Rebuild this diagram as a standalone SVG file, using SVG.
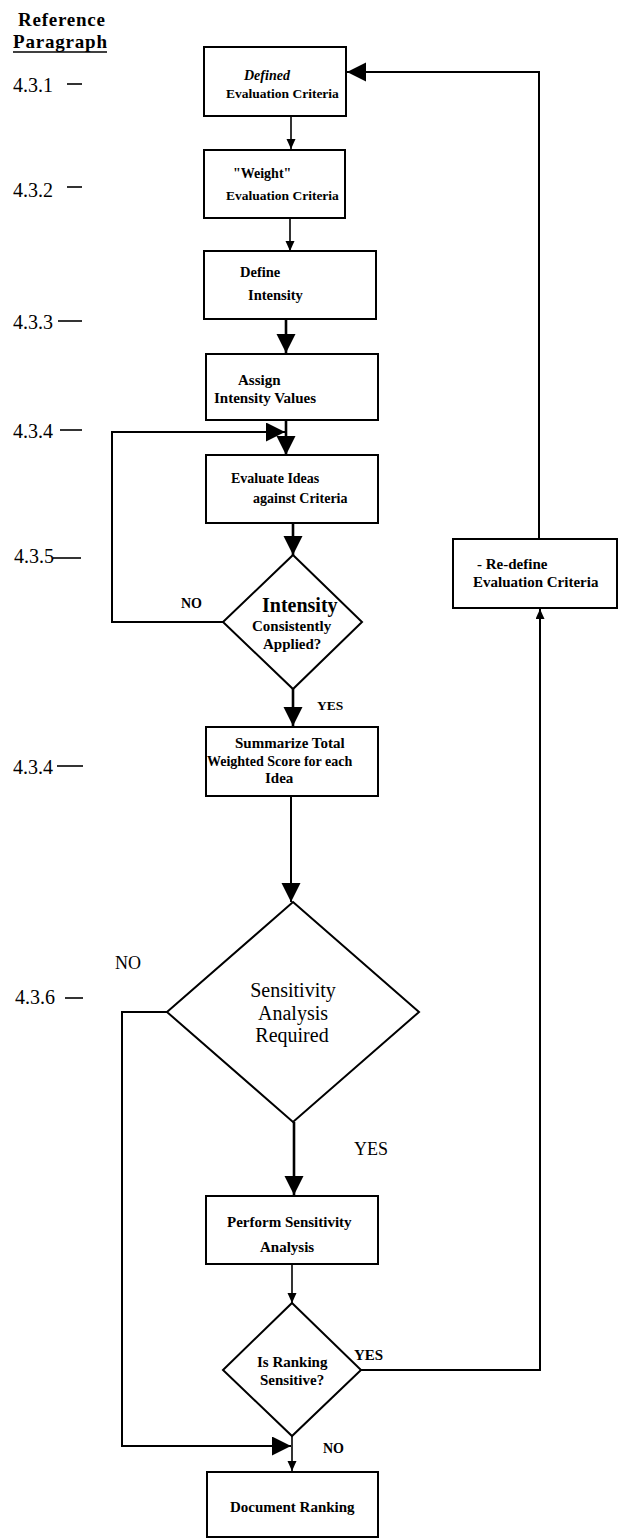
<svg xmlns="http://www.w3.org/2000/svg" width="618" height="1539" viewBox="0 0 618 1539">
  <style>
    .box { fill: #fff; stroke: #000; stroke-width: 2; }
    .ln { fill: none; stroke: #000; stroke-width: 1.6; }
    .thick { stroke-width: 2.6; }
    .mid { stroke-width: 2; }
    .tick { stroke: #000; stroke-width: 1.6; }
    text { font-family: "Liberation Serif", "Times New Roman", serif; fill: #000; }
    .b { font-weight: bold; }
    .bi { font-weight: bold; font-style: italic; }
    .sec { font-size: 20px; }
  </style>
  <defs>
    <marker id="big" markerUnits="userSpaceOnUse" markerWidth="20" markerHeight="20" refX="19" refY="9.5" orient="auto">
      <path d="M0,0 L19,9.5 L0,19 z" fill="#000"/>
    </marker>
    <marker id="small" markerUnits="userSpaceOnUse" markerWidth="11" markerHeight="10" refX="10" refY="4.5" orient="auto">
      <path d="M0,0 L10,4.5 L0,9 z" fill="#000"/>
    </marker>
  </defs>

  <rect width="618" height="1539" fill="#fff"/>

  <!-- column heading and paragraph numbers -->
  <g id="reference-column">
    <text class="b" x="18" y="26" font-size="19" textLength="87">Reference</text>
    <text class="b" x="13" y="48" font-size="19" textLength="94">Paragraph</text>
    <line class="tick" x1="13" y1="52" x2="107" y2="52"/>
    <text class="sec" x="13" y="92">4.3.1</text>
    <line class="tick" x1="67" y1="84" x2="82" y2="84"/>
    <text class="sec" x="13" y="197">4.3.2</text>
    <line class="tick" x1="67" y1="187" x2="82" y2="187"/>
    <text class="sec" x="13" y="329">4.3.3</text>
    <line class="tick" x1="58" y1="321" x2="82" y2="321"/>
    <text class="sec" x="13" y="438">4.3.4</text>
    <line class="tick" x1="60" y1="430" x2="82" y2="430"/>
    <text class="sec" x="14" y="563">4.3.5</text>
    <line class="tick" x1="53" y1="558" x2="81" y2="558"/>
    <text class="sec" x="13" y="774">4.3.4</text>
    <line class="tick" x1="57" y1="766" x2="83" y2="766"/>
    <text class="sec" x="15" y="1004">4.3.6</text>
    <line class="tick" x1="65" y1="998" x2="83" y2="998"/>
  </g>

  <!-- connectors -->
  <g id="connectors">
    <path class="ln" d="M291,116 V149" marker-end="url(#small)"/>
    <path class="ln" d="M290,218 V251" marker-end="url(#small)"/>
    <path class="ln thick" d="M286,319 V353" marker-end="url(#big)"/>
    <path class="ln thick" d="M286,420 V455" marker-end="url(#big)"/>
    <path class="ln mid" d="M223,622 H112 V432 H285" marker-end="url(#big)"/>
    <path class="ln thick" d="M293,523 V555" marker-end="url(#big)"/>
    <path class="ln thick" d="M293,689 V726" marker-end="url(#big)"/>
    <path class="ln mid" d="M291,796 V902" marker-end="url(#big)"/>
    <path class="ln thick" d="M294,1122 V1195" marker-end="url(#big)"/>
    <path class="ln mid" d="M167,1012 H122 V1446 H291" marker-end="url(#big)"/>
    <path class="ln" d="M292,1264 V1303" marker-end="url(#small)"/>
    <path class="ln" d="M292,1436 V1471" marker-end="url(#small)"/>
    <path class="ln mid" d="M361,1370 H540 V609" marker-end="url(#small)"/>
    <path class="ln mid" d="M539,539 V72 H347" marker-end="url(#big)"/>
    <text class="b" x="181" y="608" font-size="14">NO</text>
    <text class="b" x="317" y="710" font-size="13.5">YES</text>
    <text x="115" y="969" font-size="18">NO</text>
    <text x="354" y="1155" font-size="18">YES</text>
    <text class="b" x="354" y="1360" font-size="15">YES</text>
    <text class="b" x="323" y="1453" font-size="14">NO</text>
  </g>

  <g id="define-criteria">
    <rect class="box" x="204" y="47" width="142" height="69"/>
    <text class="bi" x="244" y="80" font-size="14">Defined</text>
    <text class="b" x="226" y="98" font-size="13.5">Evaluation Criteria</text>
  </g>

  <g id="weight-criteria">
    <rect class="box" x="204" y="150" width="141" height="68"/>
    <text class="b" x="233" y="178" font-size="14">"Weight"</text>
    <text class="b" x="226" y="200" font-size="13.5">Evaluation Criteria</text>
  </g>

  <g id="define-intensity">
    <rect class="box" x="204" y="251" width="172" height="68"/>
    <text class="b" x="240" y="277" font-size="14.5">Define</text>
    <text class="b" x="248" y="300" font-size="14.5">Intensity</text>
  </g>

  <g id="assign-values">
    <rect class="box" x="206" y="354" width="172" height="66"/>
    <text class="b" x="238" y="385" font-size="15">Assign</text>
    <text class="b" x="214" y="403" font-size="15">Intensity Values</text>
  </g>

  <g id="evaluate-ideas">
    <rect class="box" x="206" y="455" width="172" height="68"/>
    <text class="b" x="231" y="483" font-size="14">Evaluate Ideas</text>
    <text class="b" x="253" y="503" font-size="14">against Criteria</text>
  </g>

  <g id="intensity-check">
    <polygon class="box" points="293,555 362,622 293,689 223,622"/>
    <text class="b" x="262" y="612" font-size="20">Intensity</text>
    <text class="b" x="252" y="631" font-size="15">Consistently</text>
    <text class="b" x="263" y="649" font-size="15">Applied?</text>
  </g>

  <g id="summarize-score">
    <rect class="box" x="206" y="727" width="172" height="69"/>
    <text class="b" x="235" y="748" font-size="15">Summarize Total</text>
    <text class="b" x="207" y="766" font-size="14">Weighted Score for each</text>
    <text class="b" x="265" y="783" font-size="15">Idea</text>
  </g>

  <g id="sensitivity-required">
    <polygon class="box" points="293,902 419,1012 293,1122 167,1012"/>
    <text x="293" y="997" font-size="20" text-anchor="middle">Sensitivity</text>
    <text x="293" y="1020" font-size="20" text-anchor="middle">Analysis</text>
    <text x="292" y="1042" font-size="20" text-anchor="middle">Required</text>
  </g>

  <g id="perform-analysis">
    <rect class="box" x="206" y="1196" width="172" height="68"/>
    <text class="b" x="227" y="1227" font-size="15">Perform Sensitivity</text>
    <text class="b" x="260" y="1252" font-size="15">Analysis</text>
  </g>

  <g id="ranking-sensitive">
    <polygon class="box" points="292,1303 361,1370 292,1436 223,1370"/>
    <text class="b" x="257" y="1367" font-size="15">Is Ranking</text>
    <text class="b" x="260" y="1385" font-size="15">Sensitive?</text>
  </g>

  <g id="redefine-criteria">
    <rect class="box" x="453" y="539" width="164" height="69"/>
    <text class="b" x="477" y="569" font-size="15">- Re-define</text>
    <text class="b" x="473" y="587" font-size="15">Evaluation Criteria</text>
  </g>

  <g id="document-ranking">
    <rect class="box" x="207" y="1472" width="171" height="65"/>
    <text class="b" x="230" y="1512" font-size="15">Document Ranking</text>
  </g>
</svg>
